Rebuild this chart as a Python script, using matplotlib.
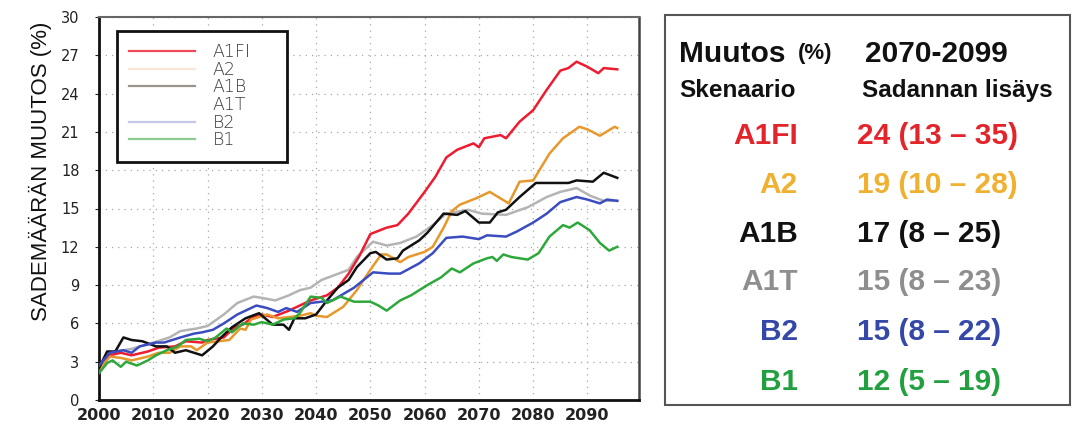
import matplotlib
matplotlib.use("Agg")
import matplotlib.pyplot as plt
from matplotlib.lines import Line2D
from matplotlib.patches import Rectangle

# ---------------- data ----------------
scenarios = ["A1FI", "A2", "A1B", "A1T", "B2", "B1"]

a1fi_years = [2000, 2002, 2004, 2006, 2009, 2011, 2014, 2016, 2019, 2020, 2023, 2025, 2026.5, 2028, 2030, 2032,
              2035, 2037, 2039, 2042, 2044, 2046, 2048, 2050, 2053, 2055, 2057, 2060, 2062, 2064, 2066, 2069,
              2070, 2071, 2074, 2075, 2077.5, 2080, 2082.5, 2085, 2086.5, 2088, 2090, 2092, 2093, 2095.5]
a1fi_vals = [2.5, 3.5, 3.7, 3.5, 3.8, 4.1, 4.2, 4.6, 4.5, 4.7, 4.9, 5.7, 5.9, 6.4, 6.7, 6.5,
             7.0, 7.4, 7.8, 8.2, 8.8, 9.9, 11.3, 13.0, 13.5, 13.7, 14.6, 16.3, 17.5, 19.0, 19.6, 20.1,
             19.8, 20.5, 20.75, 20.5, 21.8, 22.7, 24.3, 25.8, 26.0, 26.5, 26.1, 25.6, 26.0, 25.9]

a2_years = [2000, 2002, 2004, 2006, 2009, 2011, 2013, 2015, 2017, 2018, 2020, 2022, 2024, 2026, 2027, 2028,
            2031, 2033, 2035, 2037, 2039, 2040, 2042, 2045, 2047.5, 2050, 2052, 2053, 2055.5, 2057, 2060,
            2061.5, 2063.5, 2065, 2066.5, 2069.5, 2072, 2075.5, 2077.5, 2080, 2083, 2085.5, 2088.5, 2090,
            2092.3, 2095, 2095.5]
a2_vals = [2.4, 3.4, 3.3, 3.1, 3.4, 3.7, 3.7, 4.2, 4.2, 3.9, 4.5, 4.6, 4.7, 5.6, 5.5, 6.3,
           6.7, 6.4, 6.5, 6.6, 6.8, 6.6, 6.5, 7.3, 8.6, 10.2, 11.4, 11.4, 10.8, 11.2, 11.6,
           12.0, 13.5, 14.8, 15.3, 15.8, 16.3, 15.4, 17.1, 17.2, 19.3, 20.5, 21.4, 21.2,
           20.7, 21.4, 21.3]

a1b_years = [2000, 2001.5, 2003, 2004.5, 2006, 2008, 2010.5, 2012.5, 2014, 2016, 2019, 2021, 2022.5, 2024.5,
             2027, 2029.5, 2032, 2034, 2035, 2036, 2038, 2040, 2042, 2044, 2046, 2047.5, 2050, 2051, 2053,
             2055, 2056, 2059, 2060.5, 2063.5, 2066, 2067.5, 2070, 2072, 2073.5, 2075, 2077.5, 2080.5,
             2083.5, 2086.5, 2088, 2091, 2093, 2095.5]
a1b_vals = [2.5, 3.8, 3.8, 4.9, 4.7, 4.6, 4.2, 4.2, 3.7, 3.9, 3.5, 4.2, 4.9, 5.7,
            6.4, 6.8, 5.9, 5.9, 5.5, 6.4, 6.4, 6.7, 7.8, 8.8, 9.4, 10.4, 11.5, 11.6, 11.0,
            11.1, 11.7, 12.5, 13.1, 14.6, 14.5, 14.8, 13.9, 13.9, 14.7, 14.9, 15.9, 17.0,
            17.0, 17.0, 17.2, 17.1, 17.8, 17.4]

a1t_years = [2000, 2003, 2006, 2010, 2013, 2015, 2018, 2020, 2023, 2025.5, 2028.5, 2030, 2032.5, 2035,
             2037, 2039, 2041, 2043.5, 2046, 2047.5, 2050.5, 2053, 2055.5, 2058.5, 2061.5, 2064, 2068,
             2070.5, 2075, 2079, 2082.5, 2085, 2088, 2090.5, 2093, 2095.5]
a1t_vals = [2.6, 3.8, 4.0, 4.5, 4.9, 5.4, 5.6, 5.8, 6.7, 7.6, 8.1, 8.0, 7.8, 8.2,
            8.6, 8.8, 9.4, 9.8, 10.2, 11.2, 12.4, 12.1, 12.3, 12.8, 13.7, 14.6, 14.9,
            14.6, 14.5, 15.1, 15.9, 16.3, 16.6, 16.0, 15.6, 15.6]

b2_years = [2000, 2002, 2004.5, 2006, 2007.5, 2010.5, 2012, 2015, 2017.5, 2019, 2021, 2023, 2025.5, 2027,
            2029, 2031, 2033, 2034.5, 2036.5, 2039, 2043, 2047, 2050.5, 2053.5, 2055.5, 2059, 2061.5,
            2064, 2067, 2070, 2071.5, 2075, 2077, 2080, 2082.5, 2085, 2088, 2090, 2092.3, 2093.6, 2095.5]
b2_vals = [2.7, 3.7, 3.9, 3.7, 4.2, 4.5, 4.5, 4.9, 5.2, 5.3, 5.5, 6.0, 6.7, 7.0,
           7.4, 7.2, 6.9, 7.2, 6.9, 7.6, 7.8, 8.8, 10.0, 9.9, 9.9, 10.7, 11.5,
           12.7, 12.8, 12.6, 12.9, 12.8, 13.2, 13.9, 14.6, 15.5, 15.9, 15.7, 15.4, 15.7, 15.6]

b1_years = [2000, 2001.5, 2002.5, 2004, 2005, 2007, 2009, 2010.5, 2012.5, 2014.5, 2016, 2018.5, 2020,
            2021.5, 2023.5, 2024.5, 2026.5, 2028.5, 2030, 2032, 2034, 2036, 2037, 2039, 2041, 2042,
            2044.5, 2047, 2050, 2051.5, 2053, 2055.5, 2057.5, 2060.5, 2063, 2065, 2066.5, 2069, 2071.5,
            2072.5, 2073.3, 2074.5, 2076, 2079, 2081, 2083, 2085.5, 2086.7, 2088.2, 2090.4, 2092.3,
            2094, 2095.5]
b1_vals = [2.1, 2.9, 3.1, 2.6, 3.0, 2.7, 3.1, 3.5, 3.9, 4.2, 4.7, 4.8, 4.6,
           4.9, 5.6, 5.3, 6.0, 5.9, 6.1, 5.9, 6.3, 6.4, 6.8, 8.1, 8.0, 7.6,
           8.1, 7.7, 7.7, 7.4, 7.0, 7.8, 8.2, 9.0, 9.6, 10.3, 10.0, 10.7, 11.1,
           11.2, 10.9, 11.4, 11.2, 11.0, 11.5, 12.8, 13.7, 13.5, 13.9, 13.3, 12.3,
           11.7, 12.0]

# table (2070-2099 change, %)
table_mean = [24, 19, 17, 15, 15, 12]
table_low = [13, 10, 8, 8, 8, 5]
table_high = [35, 28, 25, 23, 22, 19]

x_ticks = [2000, 2010, 2020, 2030, 2040, 2050, 2060, 2070, 2080, 2090]
y_ticks = [0, 3, 6, 9, 12, 15, 18, 21, 24, 27, 30]

# ---------------- styles ----------------
line_colors = ["#ee1c30", "#e8982a", "#111111", "#b4b4b4", "#3a4cc0", "#2ea83a"]
legend_colors = ["#f04a5a", "#fbe6d8", "#9c948c", "#ffffff", "#c4c8e8", "#8ccc90"]
text_colors = ["#e3242b", "#f0b030", "#111111", "#8e8e8e", "#3548a8", "#22a040"]

series_years = [a1fi_years, a2_years, a1b_years, a1t_years, b2_years, b1_years]
series_vals = [a1fi_vals, a2_vals, a1b_vals, a1t_vals, b2_vals, b1_vals]

fig = plt.figure(figsize=(10.74, 4.25), dpi=100)
fig.patch.set_facecolor("white")

W, H = 1074.0, 425.0
ax = fig.add_axes([99 / W, 1 - 400 / H, (639 - 99) / W, (400 - 17) / H])

draw_order = [3, 0, 1, 2, 4, 5]
for k, i in enumerate(draw_order):
    ax.plot(series_years[i], series_vals[i], color=line_colors[i], lw=1.8,
            solid_joinstyle="round", zorder=3 + k * 0.1)

ax.set_xlim(2000, 2099.5)
ax.set_ylim(0, 30)
ax.set_xticks(x_ticks)
ax.set_yticks(y_ticks)
ax.grid(True, color="#a8a8a8", linestyle=(0, (1, 4)), linewidth=0.9)
ax.set_axisbelow(True)

ax.tick_params(axis="x", labelsize=11.5, length=0, pad=6, colors="#222222")
ax.tick_params(axis="y", labelsize=10.5, length=3, width=0.8, pad=11, colors="#222222")
for lab in ax.get_xticklabels() + ax.get_yticklabels():
    lab.set_family("DejaVu Sans")
    lab.set_color("#222222")
for lab in ax.get_xticklabels():
    lab.set_fontweight("bold")

ax.spines["left"].set_linewidth(2.0)
ax.spines["bottom"].set_linewidth(2.0)
ax.spines["left"].set_color("#111111")
ax.spines["bottom"].set_color("#111111")
ax.spines["top"].set_linewidth(1.5)
ax.spines["top"].set_color("#666666")
ax.spines["right"].set_linewidth(1.8)
ax.spines["right"].set_color("#444444")

handles = [Line2D([], [], color=c, lw=1.6) for c in legend_colors]
leg = ax.legend(handles, scenarios, loc="upper left",
                bbox_to_anchor=(18 / 540, (400 - 163) / 383, 170 / 540, 132 / 383),
                mode="expand", fancybox=False, framealpha=1, edgecolor="#111111",
                borderaxespad=0, borderpad=0.7, handlelength=3.8, handletextpad=1.0,
                labelspacing=-0.02, prop={"family": "DejaVu Sans", "size": 12.5, "weight": "light"})
leg.get_frame().set_linewidth(2.0)
for t in leg.get_texts():
    t.set_color("#3a3a3a")

fig.text(40 / W, 1 - 171 / H, "SADEMÄÄRÄN MUUTOS (%)", rotation=90, ha="center", va="center",
         fontsize=16, family="Liberation Sans", color="#111111")

# ---------------- right-hand table ----------------
fig.patches.append(Rectangle((665 / W, 1 - 405 / H), (1070 - 665) / W, 390 / H,
                             transform=fig.transFigure, fill=False, edgecolor="#555555", lw=1.5))

fam = "Liberation Sans"
fig.text(679 / W, 1 - 62 / H, "Muutos", fontsize=21.5, fontweight="bold", family=fam,
         color="#111111", va="baseline", ha="left")
fig.text(798 / W, 1 - 59 / H, "(%)", fontsize=16, fontweight="bold", family=fam,
         color="#111111", va="baseline", ha="left")
fig.text(865 / W, 1 - 62 / H, "2070-2099", fontsize=21.5, fontweight="bold", family=fam,
         color="#111111", va="baseline", ha="left")
fig.text(679 / W, 1 - 97 / H, "Skenaario", fontsize=17.5, fontweight="bold", family=fam,
         color="#111111", va="baseline", ha="left")
fig.text(862 / W, 1 - 97 / H, "Sadannan lisäys", fontsize=17.5, fontweight="bold", family=fam,
         color="#111111", va="baseline", ha="left")

row_baselines = [144, 193, 242, 290, 340, 390]
for name, m, lo, hi, c, yb in zip(scenarios, table_mean, table_low, table_high, text_colors, row_baselines):
    fig.text(798 / W, 1 - yb / H, name, fontsize=21.5, fontweight="bold", family=fam,
             color=c, va="baseline", ha="right")
    fig.text(857 / W, 1 - yb / H, f"{m} ({lo} – {hi})", fontsize=21.5, fontweight="bold", family=fam,
             color=c, va="baseline", ha="left")

fig.savefig("out.png", dpi=100)
